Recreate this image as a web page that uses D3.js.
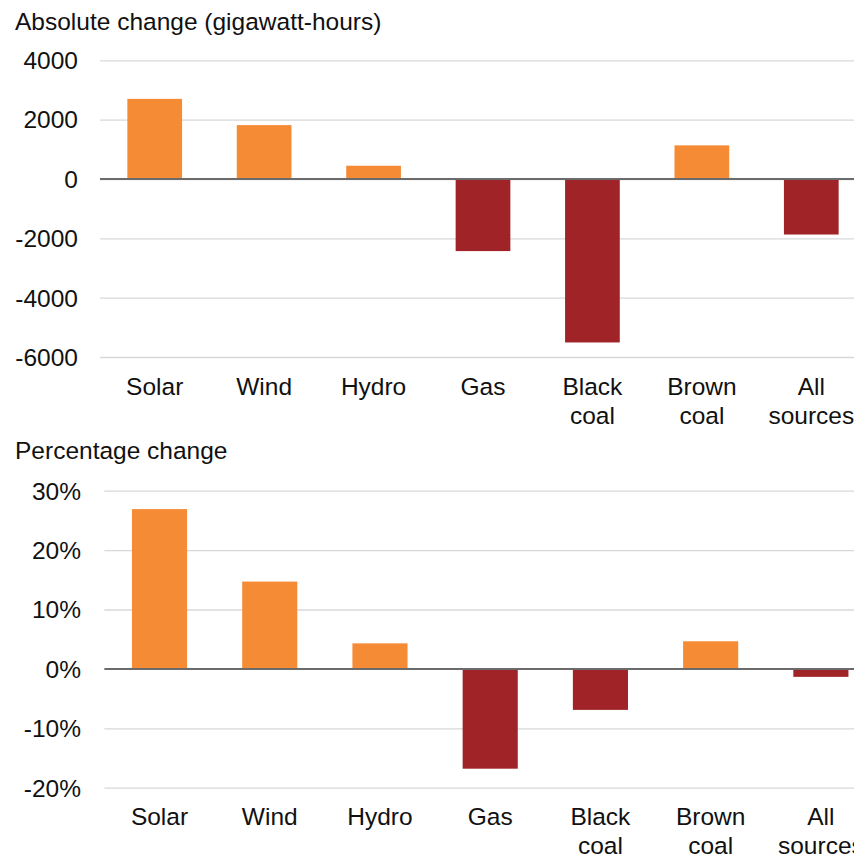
<!DOCTYPE html>
<html>
<head>
<meta charset="utf-8">
<script src="https://cdn.jsdelivr.net/npm/d3@7"></script>
<style>
  html, body { margin: 0; padding: 0; background: #fff; }
  svg { display: block; font-family: "Liberation Sans", Arial, Helvetica, sans-serif; }
</style>
</head>
<body>
<svg id="chart" width="854" height="855"></svg>
<script>
// categories, two lines each where the label wraps
var categories = ['Solar', 'Wind', 'Hydro', 'Gas', 'Black coal', 'Brown coal', 'All sources'];
var categoryLines = [['Solar'], ['Wind'], ['Hydro'], ['Gas'], ['Black', 'coal'], ['Brown', 'coal'], ['All', 'sources']];

// absolute change, gigawatt-hours
var absoluteValues = [2700, 1815, 447, -2430, -5510, 1133, -1872];
var absoluteTicks = [4000, 2000, 0, -2000, -4000, -6000];

// percentage change
var percentValues = [26.9, 14.7, 4.3, -16.8, -6.9, 4.65, -1.34];
var percentTicks = [30, 20, 10, 0, -10, -20];

var orange = '#f58b34';
var red = '#a02327';
var fontSize = 24.5;

var svg = d3.select('#chart');

/*
 * Draws one panel: title, grid, bars, zero line and category labels
 */
function drawPanel(opts) {
  var g = svg.append('g');

  var x = d3.scaleBand()
    .domain(categories)
    .range([opts.left, opts.right])
    .paddingInner(0.5)
    .paddingOuter(0.25);

  var y = d3.scaleLinear()
    .domain([opts.ticks[opts.ticks.length - 1], opts.ticks[0]])
    .range([opts.bottom, opts.top]);

  g.append('text')
    .attr('x', 15)
    .attr('y', opts.titleY)
    .attr('font-size', fontSize)
    .attr('fill', '#111')
    .text(opts.title);

  // grid lines with tick labels from an axis
  var axis = d3.axisLeft(y)
    .tickValues(opts.ticks)
    .tickSize(-(854 - opts.left))
    .tickPadding(opts.left - opts.labelRight)
    .tickFormat(opts.format);

  var ax = g.append('g')
    .attr('transform', `translate(${opts.left},0)`)
    .call(axis);
  ax.select('.domain').remove();
  ax.selectAll('.tick line')
    .attr('stroke', '#d6d8da')
    .attr('stroke-width', 1.3);
  ax.selectAll('.tick text')
    .attr('font-size', fontSize)
    .attr('fill', '#111')
    .attr('font-family', null)
    .attr('dy', '0.34em');

  g.selectAll('rect.bar')
    .data(opts.values)
    .enter()
    .append('rect')
    .attr('class', 'bar')
    .attr('x', (d, i) => x(categories[i]))
    .attr('width', x.bandwidth())
    .attr('y', d => y(Math.max(0, d)))
    .attr('height', d => Math.abs(y(d) - y(0)))
    .attr('fill', d => d >= 0 ? orange : red);

  g.append('line')
    .attr('x1', opts.left)
    .attr('x2', 854)
    .attr('y1', y(0))
    .attr('y2', y(0))
    .attr('stroke', '#6b6b6b')
    .attr('stroke-width', 2);

  var labels = g.selectAll('text.cat')
    .data(categoryLines)
    .enter()
    .append('text')
    .attr('class', 'cat')
    .attr('text-anchor', 'middle')
    .attr('font-size', fontSize)
    .attr('fill', '#111')
    .attr('x', (d, i) => x(categories[i]) + x.bandwidth() / 2)
    .attr('y', opts.labelY);

  labels.selectAll('tspan')
    .data(d => d)
    .enter()
    .append('tspan')
    .attr('x', function() { return this.parentNode.getAttribute('x'); })
    .attr('dy', (d, i) => i === 0 ? 0 : 28.5)
    .text(d => d);
}

drawPanel({
  title: 'Absolute change (gigawatt-hours)',
  titleY: 30,
  values: absoluteValues,
  ticks: absoluteTicks,
  format: d => d,
  left: 100,
  right: 866,
  labelRight: 78,
  top: 60.3,
  bottom: 357,
  labelY: 395
});

drawPanel({
  title: 'Percentage change',
  titleY: 459,
  values: percentValues,
  ticks: percentTicks,
  format: d => d + '%',
  left: 104.4,
  right: 876,
  labelRight: 81,
  top: 490.7,
  bottom: 787.7,
  labelY: 825
});
</script>
</body>
</html>
